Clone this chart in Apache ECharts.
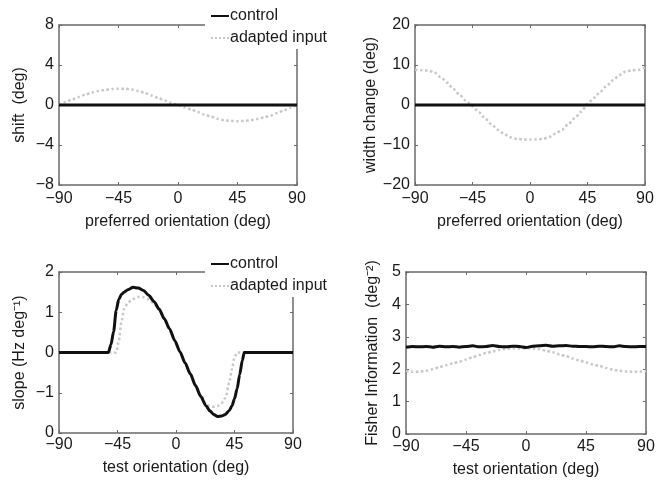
<!DOCTYPE html>
<html>
<head>
<meta charset="utf-8">
<script src="https://cdn.jsdelivr.net/npm/echarts@6/dist/echarts.min.js"></script>
<style>
html,body{margin:0;padding:0;background:#fff;}
#c{width:662px;height:482px;}
</style>
</head>
<body>
<div id="c"></div>
<script>
// ---------- data ----------
var angles5 = [-90,-85,-80,-75,-70,-65,-60,-55,-50,-45,-40,-35,-30,-25,-20,-15,-10,-5,0,5,10,15,20,25,30,35,40,45,50,55,60,65,70,75,80,85,90];
var xTicks = [-90,-45,0,45,90];

var shiftControl = [0,0,0,0,0,0,0,0,0,0,0,0,0,0,0,0,0,0,0,0,0,0,0,0,0,0,0,0,0,0,0,0,0,0,0,0,0];
var shiftAdapted = [0,0.3,0.55,0.8,1.05,1.25,1.4,1.52,1.6,1.63,1.62,1.55,1.4,1.2,0.95,0.7,0.45,0.2,0,-0.22,-0.45,-0.7,-0.95,-1.18,-1.38,-1.52,-1.6,-1.62,-1.6,-1.52,-1.4,-1.25,-1.05,-0.8,-0.55,-0.28,0];

var widthControl = [0,0,0,0,0,0,0,0,0,0,0,0,0,0,0,0,0,0,0,0,0,0,0,0,0,0,0,0,0,0,0,0,0,0,0,0,0];
var widthAdapted = [8.8,8.7,8.6,8.2,7.0,5.6,4.0,2.5,1.0,-0.3,-1.8,-3.4,-4.9,-6.2,-7.3,-8.1,-8.5,-8.6,-8.6,-8.6,-8.5,-8.0,-7.2,-6.2,-4.8,-3.3,-1.7,0.2,1.8,3.3,4.8,6.2,7.5,8.4,8.7,8.8,9.4];

var slopeAngles = [-90,-80,-70,-60,-55,-52,-50,-48,-46,-44,-42,-40,-37,-33,-29,-25,-21,-17,-13,-9,-5,-1,3,7,11,15,19,23,26,29,32,35,38,41,43,45,47,49,51,52.5,55,60,70,80,90];
var slopeControl = [0,0,0,0,0,0,0.2,0.52,1.05,1.32,1.44,1.5,1.56,1.62,1.6,1.54,1.42,1.27,1.08,0.84,0.59,0.3,0.02,-0.26,-0.53,-0.82,-1.09,-1.32,-1.45,-1.54,-1.59,-1.58,-1.54,-1.44,-1.33,-1.15,-0.9,-0.55,-0.2,0,0,0,0,0,0];
var slopeAdapted = [0,0,0,0,0,0,0,0,0,0.3,0.75,1.08,1.24,1.33,1.38,1.37,1.32,1.22,1.06,0.83,0.58,0.3,0.02,-0.26,-0.53,-0.8,-1.05,-1.27,-1.33,-1.35,-1.33,-1.26,-1.13,-0.75,-0.42,-0.12,0,0,0,0,0,0,0,0,0];
var slopeTicks = [-2,-1,0,1,2];
var slopeTickLabels = ['0','\u22121','0','1','2'];

var fisherControl = [2.68,2.7,2.69,2.7,2.68,2.71,2.69,2.7,2.68,2.7,2.72,2.69,2.7,2.73,2.7,2.69,2.71,2.7,2.67,2.71,2.72,2.74,2.71,2.72,2.73,2.71,2.7,2.7,2.69,2.71,2.7,2.69,2.72,2.7,2.69,2.7,2.7];
var fisherAdapted = [1.95,1.92,1.92,1.95,2.0,2.06,2.12,2.18,2.23,2.3,2.37,2.44,2.5,2.55,2.6,2.63,2.65,2.64,2.65,2.64,2.62,2.57,2.52,2.46,2.4,2.33,2.27,2.21,2.15,2.1,2.04,1.99,1.95,1.93,1.92,1.92,1.95];

var legendNames = ['control','adapted input'];

// ---------- helpers ----------
function pairs(xs, ys){ return xs.map(function(x,i){ return [x, ys[i]]; }); }
function minus(v){ return String(v).replace('-', '\u2212'); }

var FONT = 'Liberation Sans, Arial, Helvetica, sans-serif';
var FS = 16;
var AXC = '#6a6a6a';
var TXT = '#1a1a1a';

var grids = [
  {left:59, top:25, width:238, height:160},
  {left:415, top:25, width:230, height:160},
  {left:59, top:272, width:234, height:161},
  {left:406, top:272, width:240, height:162}
];

var yConf = [
  {min:-8, max:8, interval:4, name:'shift  (deg)', nameGap:31, fmt:minus},
  {min:-20, max:20, interval:10, name:'width change (deg)', nameGap:35, fmt:minus},
  {min:-2, max:2, interval:1, name:'slope (Hz deg\u207B\u00B9)', nameGap:31, fmt:function(v){ var i = slopeTicks.indexOf(v); return i>=0 ? slopeTickLabels[i] : ''; }},
  {min:0, max:5, interval:1, name:'Fisher Information  (deg\u207B\u00B2)', nameGap:25, fmt:minus}
];
var xNames = ['preferred orientation (deg)','preferred orientation (deg)','test orientation (deg)','test orientation (deg)'];
var xNameGaps = [29, 29, 27, 28];
var xLabelMargins = [6, 6, 4, 5];

var xAxes = [], yAxes = [];
for (var g=0; g<4; g++){
  xAxes.push({
    gridIndex:g, type:'value', min:xTicks[0], max:xTicks[xTicks.length-1], interval:45,
    name:xNames[g], nameLocation:'middle', nameGap:xNameGaps[g],
    nameTextStyle:{fontFamily:FONT, fontSize:FS, color:TXT},
    axisLine:{show:true, onZero:false, lineStyle:{color:AXC, width:1.5}},
    axisTick:{show:true, inside:true, length:3, lineStyle:{color:AXC}},
    axisLabel:{fontFamily:FONT, fontSize:FS, color:TXT, margin:xLabelMargins[g], formatter:minus},
    splitLine:{show:false}
  });
  xAxes.push({
    gridIndex:g, type:'value', position:'top', min:xTicks[0], max:xTicks[xTicks.length-1], interval:45,
    axisLine:{show:true, onZero:false, lineStyle:{color:AXC, width:1.5}},
    axisTick:{show:true, inside:true, length:3, lineStyle:{color:AXC}},
    axisLabel:{show:false}, splitLine:{show:false}
  });
  var yc = yConf[g];
  yAxes.push({
    gridIndex:g, type:'value', min:yc.min, max:yc.max, interval:yc.interval,
    name:yc.name, nameLocation:'middle', nameGap:yc.nameGap,
    nameTextStyle:{fontFamily:FONT, fontSize:FS, color:TXT},
    axisLine:{show:true, onZero:false, lineStyle:{color:AXC, width:1.5}},
    axisTick:{show:true, inside:true, length:3, lineStyle:{color:AXC}},
    axisLabel:{fontFamily:FONT, fontSize:FS, color:TXT, margin:5, formatter:yc.fmt},
    splitLine:{show:false}
  });
  yAxes.push({
    gridIndex:g, type:'value', position:'right', min:yc.min, max:yc.max, interval:yc.interval,
    axisLine:{show:true, onZero:false, lineStyle:{color:AXC, width:1.5}},
    axisTick:{show:true, inside:true, length:3, lineStyle:{color:AXC}},
    axisLabel:{show:false}, splitLine:{show:false}
  });
}

function controlSeries(g, data){
  return {name:'control', type:'line', xAxisIndex:g*2, yAxisIndex:g*2, data:data,
    symbol:'none', showSymbol:false, z:3, smooth:0.25, smoothMonotone:'x',
    lineStyle:{color:'#111', width:3}, itemStyle:{color:'#111'}};
}
function adaptedSeries(g, data){
  return {name:'adapted input', type:'line', xAxisIndex:g*2, yAxisIndex:g*2, data:data,
    symbol:'none', showSymbol:false, z:2, smooth:0.25, smoothMonotone:'x',
    lineStyle:{color:'#c8c8c8', width:2.5, type:'dotted'}, itemStyle:{color:'#c8c8c8'}};
}

var series = [
  adaptedSeries(0, pairs(angles5, shiftAdapted)),
  controlSeries(0, pairs(angles5, shiftControl)),
  adaptedSeries(1, pairs(angles5, widthAdapted)),
  controlSeries(1, pairs(angles5, widthControl)),
  adaptedSeries(2, pairs(slopeAngles, slopeAdapted)),
  controlSeries(2, pairs(slopeAngles, slopeControl)),
  adaptedSeries(3, pairs(angles5, fisherAdapted)),
  controlSeries(3, pairs(angles5, fisherControl))
];

function legendAt(top){
  return {data:legendNames, orient:'vertical', left:205, top:top, itemWidth:18, itemHeight:14, itemGap:6,
    padding:[3,4,3,5], backgroundColor:'#fff', selectedMode:false, z:10,
    itemStyle:{opacity:0},
    textStyle:{fontFamily:FONT, fontSize:FS, color:TXT, padding:[0,0,0,-4]}};
}

var chart = echarts.init(document.getElementById('c'), null, {renderer:'canvas'});
chart.setOption({
  animation:false,
  backgroundColor:'#fff',
  grid:grids,
  xAxis:xAxes,
  yAxis:yAxes,
  legend:[legendAt(5), legendAt(253)],
  series:series
});
</script>
</body>
</html>
